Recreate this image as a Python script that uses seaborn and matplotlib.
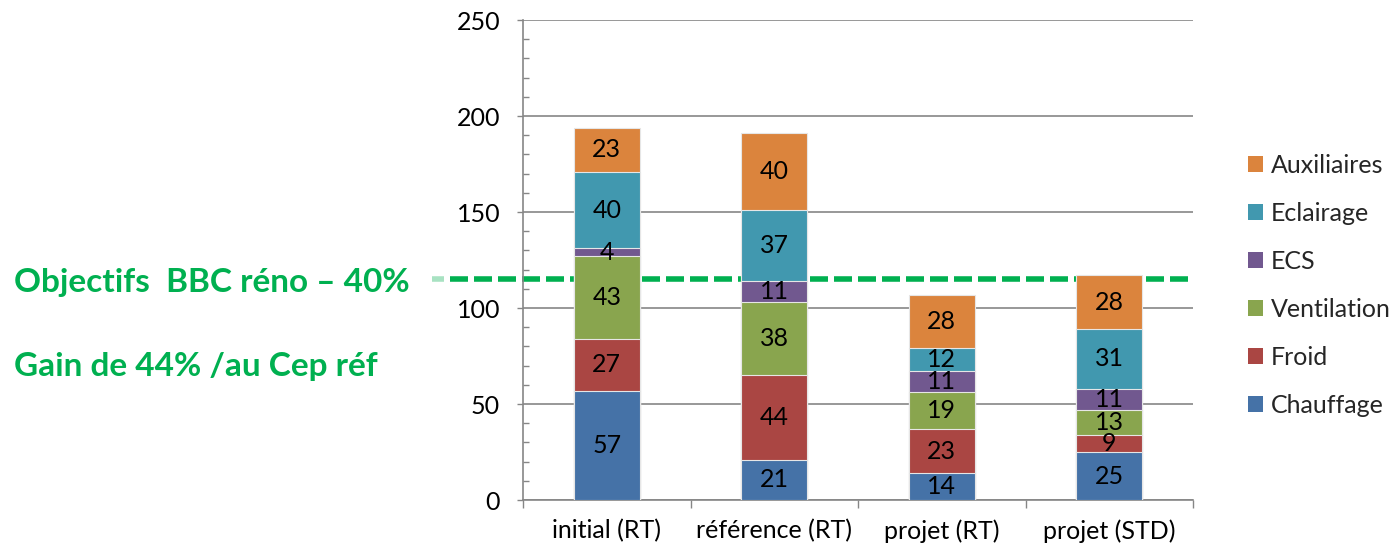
import matplotlib
matplotlib.use("Agg")
import matplotlib.pyplot as plt
from matplotlib.patches import Patch
from matplotlib.ticker import MultipleLocator, FixedLocator, NullFormatter
import pandas as pd
import seaborn as sns

# Consommations par poste (kWhep/m².an) pour chaque scénario
scenarios = ["initial (RT)", "référence (RT)", "projet (RT)", "projet (STD)"]
postes = ["Chauffage", "Froid", "Ventilation", "ECS", "Eclairage", "Auxiliaires"]
chauffage = [57, 21, 14, 25]
froid = [27, 44, 23, 9]
ventilation = [43, 38, 19, 13]
ecs = [4, 11, 11, 11]
eclairage = [40, 37, 12, 31]
auxiliaires = [23, 40, 28, 28]
objectif_bbc = 115

couleurs = ["#4572A7", "#AA4643", "#89A54E", "#71588F", "#4198AF", "#DB843D"]
vert = "#00B050"
gris = "#868686"

sns.set_theme(style="white")
plt.rcParams["font.family"] = ["Lato", "DejaVu Sans"]

fig = plt.figure(figsize=(13.91, 5.49), dpi=100)
ax = fig.add_axes([523 / 1391, 49 / 549, 670 / 1391, 480 / 549])

series = [chauffage, froid, ventilation, ecs, eclairage, auxiliaires]
df = pd.DataFrame(dict(zip(postes, series)), index=scenarios)
cumul = df.cumsum(axis=1)

# Empilement : on trace les totaux cumulés, du plus haut au plus bas
for poste, col in reversed(list(zip(postes, couleurs))):
    d = pd.DataFrame({"scenario": scenarios, "total": cumul[poste].values})
    sns.barplot(data=d, x="scenario", y="total", order=scenarios, color=col,
                saturation=1, width=0.395, edgecolor="#E6E6E6", linewidth=0.8,
                ax=ax, zorder=3)

# Valeurs au centre de chaque segment
for i, sc in enumerate(scenarios):
    for poste in postes:
        v = df.loc[sc, poste]
        y = cumul.loc[sc, poste] - v / 2
        ax.text(i, y, f"{v}", ha="center", va="center", fontsize=18,
                color="black", zorder=5)

ax.set_xlim(-0.5, 3.5)
ax.set_ylim(0, 250)
ax.set_xlabel("")
ax.set_ylabel("")

# Axe des ordonnées
ax.yaxis.set_major_locator(MultipleLocator(50))
ax.yaxis.set_minor_locator(MultipleLocator(10))
ax.tick_params(axis="y", which="major", direction="out", length=4.5, width=1,
               color=gris, labelsize=18, labelcolor="black", pad=12, left=True)
ax.tick_params(axis="y", which="minor", direction="in", length=4.5, width=1,
               color=gris, left=True)
ax.yaxis.grid(True, which="major", color=gris, linewidth=1.2)
ax.set_axisbelow(True)

# Axe des abscisses : graduations entre les catégories
ax.xaxis.set_minor_locator(FixedLocator([-0.5, 0.5, 1.5, 2.5, 3.5]))
ax.xaxis.set_minor_formatter(NullFormatter())
ax.tick_params(axis="x", which="major", length=0, labelsize=18,
               labelcolor="black", pad=14)
ax.tick_params(axis="x", which="minor", direction="out", length=5.5, width=1,
               color=gris, bottom=True)

for s in ["top", "right"]:
    ax.spines[s].set_visible(False)
for s in ["left", "bottom"]:
    ax.spines[s].set_color(gris)
    ax.spines[s].set_linewidth(1.2)

# Objectif BBC rénovation (tiretés derrière les barres)
ax.plot([-0.936, 3.47], [objectif_bbc, objectif_bbc], color=vert, lw=4,
        dashes=(3.24, 1.08), clip_on=False, zorder=2, solid_capstyle="butt")
ax.plot([-1.043, -0.972], [objectif_bbc, objectif_bbc], color="#A8E2C2", lw=4,
        clip_on=False, zorder=2, solid_capstyle="butt")

fig.text(14 / 1391, 1 - 292 / 549, "Objectifs  BBC réno – 40%", fontsize=24,
         fontweight="bold", color=vert, ha="left", va="baseline")
fig.text(14 / 1391, 1 - 376 / 549, "Gain de 44% /au Cep réf", fontsize=24,
         fontweight="bold", color=vert, ha="left", va="baseline")

# Légende (ordre inverse de l'empilement)
handles = [Patch(facecolor=c, edgecolor="none") for c in reversed(couleurs)]
fig.legend(handles, list(reversed(postes)), loc="center left",
           bbox_to_anchor=(1248 / 1391, 1 - 285.5 / 549), frameon=False,
           fontsize=18, handlelength=0.6, handleheight=0.6,
           handletextpad=0.3, labelspacing=1.0, borderpad=0, borderaxespad=0)

fig.savefig("out.png", dpi=100)
